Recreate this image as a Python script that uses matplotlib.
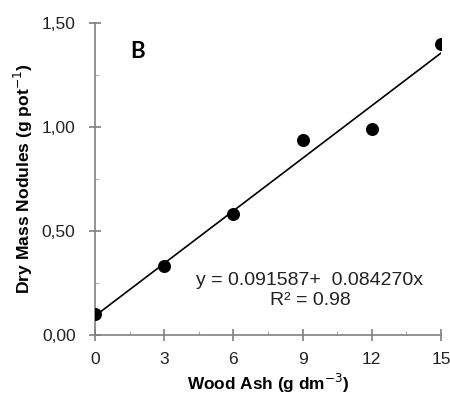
import matplotlib
matplotlib.use("Agg")
import matplotlib.pyplot as plt
import numpy as np
from matplotlib.ticker import MultipleLocator, FuncFormatter

plt.rcParams['font.family'] = ['Liberation Sans', 'DejaVu Sans']

# data
wood_ash = [0, 3, 6, 9, 12, 15]
dry_mass = [0.10, 0.33, 0.58, 0.94, 0.99, 1.40]
intercept = 0.091587
slope = 0.084270

fig = plt.figure(figsize=(4.5, 3.97), dpi=100)
ax = fig.add_axes([0.211, 0.156, 0.769, 0.786])

xfit = np.array([min(wood_ash), max(wood_ash)])
ax.plot(xfit, intercept + slope * xfit, color='black', lw=1.2, zorder=2)
ax.scatter(wood_ash, dry_mass, s=70, color='black', zorder=3)

ax.set_xlim(0, 15)
ax.set_ylim(0, 1.5)
ax.set_xticks([0, 3, 6, 9, 12, 15])
ax.set_yticks([0, 0.5, 1.0, 1.5])
ax.xaxis.set_minor_locator(MultipleLocator(1.5))
ax.yaxis.set_minor_locator(MultipleLocator(0.25))
ax.yaxis.set_major_formatter(FuncFormatter(lambda v, p: f"{v:.2f}".replace('.', ',')))

for s in ['top', 'right']:
    ax.spines[s].set_visible(False)
for s in ['left', 'bottom']:
    ax.spines[s].set_color('#808080')
    ax.spines[s].set_linewidth(1.2)
ax.tick_params(which='major', direction='inout', length=8, width=1.2, color='#808080',
               labelsize=12.5, labelcolor='#222222')
ax.tick_params(axis='x', which='major', pad=8)
ax.tick_params(axis='y', which='major', pad=10)
ax.tick_params(which='minor', direction='in', length=3, width=0.8, color='#b0b0b0')

ax.set_xlabel('Wood Ash (g dm$^{-3}$)', fontsize=12.4, fontweight='bold', labelpad=4)
ax.set_ylabel('Dry Mass Nodules (g pot$^{-1}$)', fontsize=12.6, fontweight='bold', labelpad=5)

ax.text(1.86, 1.365, 'B', fontsize=16, fontweight='bold', ha='center', va='center',
        family=['Lato', 'DejaVu Sans'])
ax.text(9.32, 0.264, f'y = {intercept:.6f}+  {slope:.6f}x', fontsize=14, ha='center', va='center', color='#222222')
ax.text(9.32, 0.168, 'R² = 0.98', fontsize=14, ha='center', va='center', color='#222222')

fig.savefig('out.png', dpi=100)
